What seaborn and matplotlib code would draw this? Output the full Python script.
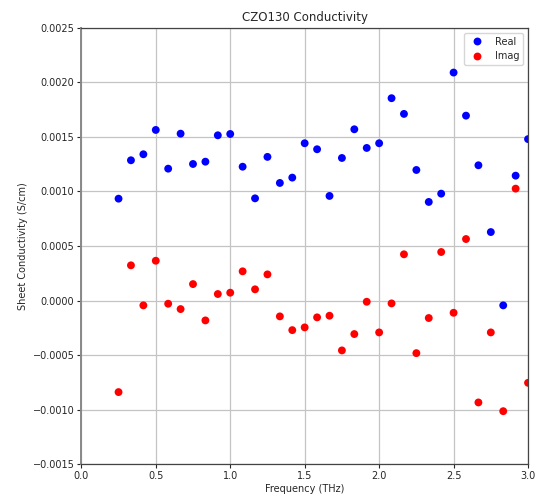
import numpy as np
import matplotlib
matplotlib.use("Agg")
import matplotlib.pyplot as plt
import seaborn as sns
import pandas as pd

# frequencies (THz), 1/12 THz steps
freq = [0.25, 0.3333, 0.4167, 0.5, 0.5833, 0.6667, 0.75, 0.8333, 0.9167, 1.0,
        1.0833, 1.1667, 1.25, 1.3333, 1.4167, 1.5, 1.5833, 1.6667, 1.75, 1.8333,
        1.9167, 2.0, 2.0833, 2.1667, 2.25, 2.3333, 2.4167, 2.5, 2.5833, 2.6667,
        2.75, 2.8333, 2.9167, 3.0]

real = [0.000934, 0.001286, 0.001341, 0.001564, 0.001209, 0.001530, 0.001252, 0.001273,
        0.001515, 0.001527, 0.001227, 0.000937, 0.001317, 0.001078, 0.001127, 0.001442,
        0.001387, 0.000959, 0.001307, 0.001570, 0.001399, 0.001442, 0.001855, 0.001711,
        0.001197, 0.000904, 0.000980, 0.002090, 0.001695, 0.001240, 0.000628, -0.000044,
        0.001145, 0.001480]

imag = [-0.000839, 0.000323, -0.000044, 0.000365, -0.000029, -0.000078, 0.000151, -0.000182,
        0.000060, 0.000072, 0.000268, 0.000103, 0.000240, -0.000145, -0.000271, -0.000246,
        -0.000154, -0.000139, -0.000457, -0.000307, -0.000011, -0.000292, -0.000026, 0.000424,
        -0.000482, -0.000160, 0.000445, -0.000112, 0.000564, -0.000934, -0.000292, -0.001014,
        0.001026, -0.000754]

yticks = [-0.0015, -0.0010, -0.0005, 0.0, 0.0005, 0.0010, 0.0015, 0.0020, 0.0025]

df = pd.DataFrame({
    "freq": freq * 2,
    "sigma": real + imag,
    "part": ["Real"] * len(freq) + ["Imag"] * len(freq),
})

sns.set_style("ticks")
plt.rcParams["font.family"] = ["DejaVu Sans"]

fig, ax = plt.subplots(figsize=(5.35, 4.97), dpi=100)
fig.subplots_adjust(left=0.152, right=0.987, top=0.944, bottom=0.066)

sns.scatterplot(data=df, x="freq", y="sigma", hue="part",
                palette={"Real": "blue", "Imag": "red"},
                s=32, linewidth=0, ax=ax)

ax.set_xlim(0, 3.0)
ax.set_ylim(-0.0015, 0.0025)
ax.set_xticks(np.arange(0, 3.01, 0.5))
ax.set_yticks(yticks)
ax.set_yticklabels([("\u2212" if v < 0 else "") + "%.4f" % abs(v) for v in yticks])
ax.grid(True, color="#c4c4c4", linewidth=0.9)
ax.tick_params(labelsize=7, length=3, width=0.8, pad=2)
for sp in ax.spines.values():
    sp.set_color("#444444")
    sp.set_linewidth(0.9)
ax.spines["left"].set_color("#888888")
ax.spines["left"].set_linewidth(1.4)

ax.set_title("CZO130 Conductivity", fontsize=8.5, pad=5)
ax.set_xlabel("Frequency (THz)", fontsize=7, labelpad=2)
ax.set_ylabel("Sheet Conductivity (S/cm)", fontsize=7, labelpad=3)
ax.legend(title=None, loc="upper right", fontsize=7, frameon=True)

fig.savefig("out.png", dpi=100)
